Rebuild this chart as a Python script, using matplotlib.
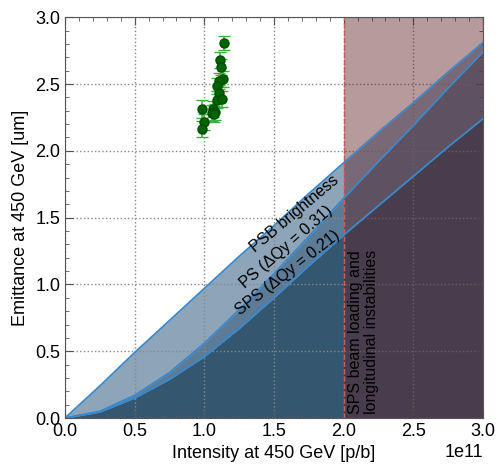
import numpy as np
import matplotlib
matplotlib.use('Agg')
import matplotlib.pyplot as plt
from matplotlib.ticker import MultipleLocator

plt.rcParams['font.family'] = ['Liberation Sans', 'DejaVu Sans']

# limit curves (intensity in p/b, emittance in um)
intensity = np.array([0, 0.25, 0.5, 0.75, 1.0, 1.25, 1.5, 1.75, 2.0, 2.25, 2.5, 2.75, 3.0]) * 1e11
psb_limit = [0, 0.24, 0.49, 0.73, 0.97, 1.21, 1.44, 1.68, 1.91, 2.14, 2.36, 2.59, 2.81]
ps_limit = [0, 0.05, 0.17, 0.34, 0.56, 0.81, 1.08, 1.36, 1.645, 1.92, 2.19, 2.47, 2.74]
sps_limit = [0, 0.045, 0.15, 0.29, 0.46, 0.67, 0.90, 1.14, 1.37, 1.59, 1.81, 2.03, 2.24]

# measurements
meas_int = np.array([1.144, 1.11, 1.122, 1.132, 1.103, 1.091, 1.105, 1.089, 1.127,
                     1.064, 1.074, 1.057, 1.072, 0.984, 0.998, 0.986]) * 1e11
meas_emit = [2.807, 2.683, 2.628, 2.54, 2.523, 2.483, 2.43, 2.384, 2.39,
             2.31, 2.29, 2.286, 2.274, 2.313, 2.214, 2.164]
meas_err = [0.055, 0.06, 0.06, 0.06, 0.06, 0.06, 0.06, 0.06, 0.06,
            0.06, 0.06, 0.06, 0.06, 0.065, 0.06, 0.06]

fig = plt.figure(figsize=(5, 4.65), dpi=100)
ax = fig.add_axes([0.13, 0.101, 0.836, 0.862])

line_c = '#3a88cc'
ax.fill_between(intensity, ps_limit, psb_limit, color='#8ea5b9', lw=0)
ax.fill_between(intensity, sps_limit, ps_limit, color='#5b7b96', lw=0)
ax.fill_between(intensity, 0, sps_limit, color='#35566f', lw=0)

ax.axvspan(2e11, 3e11, color='#611f23', alpha=0.45, lw=0, zorder=3)
ax.axvline(2e11, color='#d05a5a', ls='--', lw=1, zorder=4)

ax.plot(intensity, psb_limit, color=line_c, lw=1.3, zorder=4)
ax.plot(intensity, ps_limit, color=line_c, lw=1.3, zorder=4)
ax.plot(intensity, sps_limit, color=line_c, lw=1.3, zorder=4)

ax.errorbar(meas_int, meas_emit, yerr=meas_err, fmt='o', color='#006400',
            mec='#004d00', ms=6.5, ecolor='#3cb043', elinewidth=1.2, capsize=4, zorder=5)

ax.text(1.65e11, 1.53, 'PSB brightness', rotation=40, ha='center', va='center', fontsize=11.5, zorder=6)
ax.text(1.59e11, 1.28, 'PS (ΔQy = 0.31)', rotation=41, ha='center', va='center', fontsize=11.5, zorder=6)
ax.text(1.6e11, 1.09, 'SPS (ΔQy = 0.21)', rotation=38, ha='center', va='center', fontsize=11.5, zorder=6)
ax.text(2.03e11, 0.03, 'SPS beam loading and\nlongitudinal instabilities', rotation=90,
        ha='left', va='bottom', fontsize=11.5, zorder=6, linespacing=1.1)

ax.set_xlim(0, 3e11)
ax.set_ylim(0, 3.0)
ax.xaxis.set_major_locator(MultipleLocator(0.5e11))
ax.xaxis.set_minor_locator(MultipleLocator(0.1e11))
ax.yaxis.set_major_locator(MultipleLocator(0.5))
ax.yaxis.set_minor_locator(MultipleLocator(0.1))
ax.tick_params(which='both', direction='in', top=True, right=True, color='#555555', labelsize=13)
ax.tick_params(which='major', length=6)
ax.tick_params(which='minor', length=3)
ax.xaxis.get_offset_text().set_fontsize(13)
ax.grid(True, which='major', ls=':', color='#888888', lw=1)
ax.set_axisbelow(False)
for s in ax.spines.values():
    s.set_color('#555555')
    s.set_zorder(7)

ax.set_xlabel('Intensity at 450 GeV [p/b]', fontsize=13)
ax.set_ylabel('Emittance at 450 GeV [um]', fontsize=13)

fig.savefig('out.png', dpi=100)
